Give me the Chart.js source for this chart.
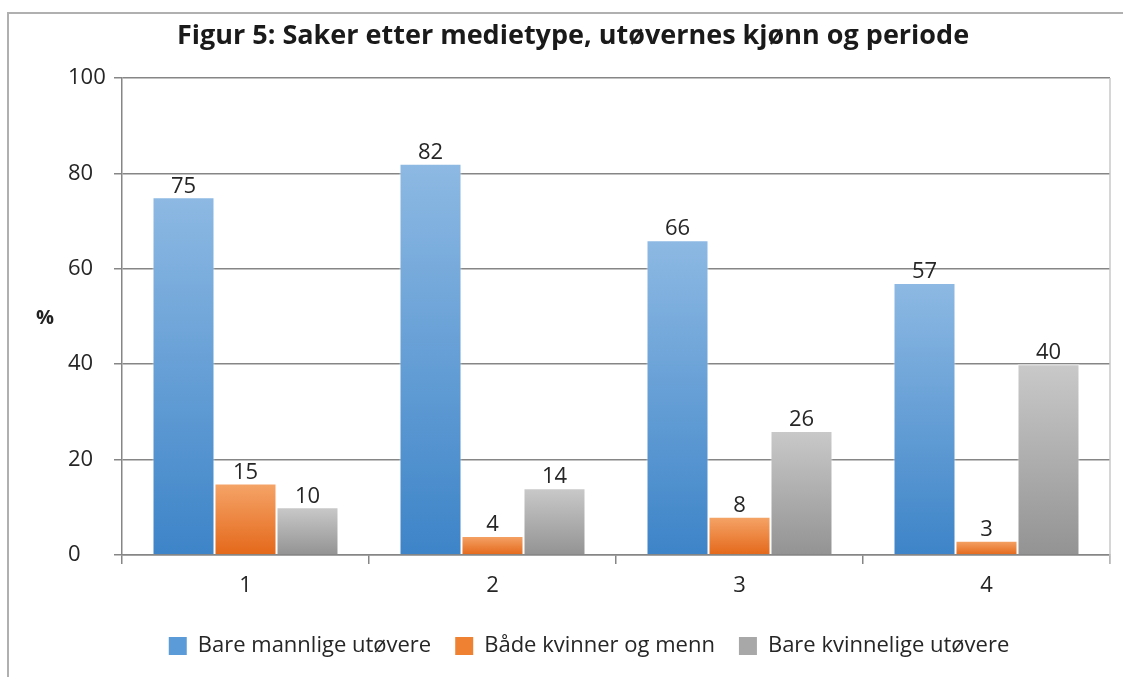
<!DOCTYPE html>
<html>
<head>
<meta charset="utf-8">
<script src="https://cdn.jsdelivr.net/npm/chart.js@4"></script>
<style>
  html, body { margin: 0; padding: 0; background: #fff; }
  #wrap { width: 1123px; height: 677px; position: relative; }
</style>
</head>
<body>
<div id="wrap"><canvas id="grafico" width="1123" height="677"></canvas></div>
<script>
// data
const perioder = ['1', '2', '3', '4'];
const bareMenn = [75, 82, 66, 57];
const baade = [15, 4, 8, 3];
const bareKvinner = [10, 14, 26, 40];
const yTicks = [0, 20, 40, 60, 80, 100];
const tittel = 'Figur 5: Saker etter medietype, utøvernes kjønn og periode';

const fonte = '"Open Sans", "DejaVu Sans", sans-serif';

// gradient per bar, light at the top and dark at the bottom
function gradient(topp, bunn) {
    return function (context) {
        const chart = context.chart;
        const area = chart.chartArea;
        if (!area || context.type !== 'data') return bunn;
        const y = chart.scales.y;
        const y0 = y.getPixelForValue(context.raw);
        const y1 = y.getPixelForValue(0);
        const g = chart.ctx.createLinearGradient(0, y0, 0, y1 + 0.01);
        g.addColorStop(0, topp);
        g.addColorStop(1, bunn);
        return g;
    };
}

const pynt = {
    id: 'pynt',
    beforeDraw(chart) {
        const ctx = chart.ctx;
        ctx.save();
        ctx.fillStyle = '#fff';
        ctx.fillRect(0, 0, chart.width, chart.height);
        // outer chart border
        ctx.strokeStyle = '#b0b0b0';
        ctx.lineWidth = 2;
        ctx.strokeRect(8, 13, chart.width + 20, chart.height + 20);
        // title, centred on the whole frame like the original
        ctx.fillStyle = '#1a1a1a';
        ctx.font = 'bold 27px ' + fonte;
        ctx.textAlign = 'center';
        ctx.textBaseline = 'middle';
        ctx.fillText(tittel, 573, 36);
        ctx.restore();
    },
    afterDatasetsDraw(chart) {
        const ctx = chart.ctx;
        const area = chart.chartArea;
        ctx.save();
        // right border of the plot area
        ctx.strokeStyle = '#c8c8c8';
        ctx.lineWidth = 1.5;
        ctx.beginPath();
        ctx.moveTo(area.right, area.top);
        ctx.lineTo(area.right, area.bottom + 9);
        ctx.stroke();
        // value labels
        ctx.fillStyle = '#262626';
        ctx.font = '22px ' + fonte;
        ctx.textAlign = 'center';
        ctx.textBaseline = 'bottom';
        chart.data.datasets.forEach(function (ds, i) {
            chart.getDatasetMeta(i).data.forEach(function (bar, j) {
                ctx.fillText(ds.data[j], bar.x, bar.y);
            });
        });
        // "%" axis label, horizontal
        ctx.fillStyle = '#222';
        ctx.font = 'bold 20px ' + fonte;
        ctx.textAlign = 'center';
        ctx.textBaseline = 'middle';
        ctx.fillText('%', 45, 318);
        ctx.restore();
    }
};

new Chart(document.getElementById('grafico'), {
    type: 'bar',
    data: {
        labels: perioder,
        datasets: [{
            label: 'Bare mannlige utøvere',
            data: bareMenn,
            backgroundColor: gradient('#8db9e3', '#3d84c8'),
            borderColor: 'rgba(255,255,255,0.6)',
            borderWidth: 1
        }, {
            label: 'Både kvinner og menn',
            data: baade,
            backgroundColor: gradient('#f5a468', '#e4681a'),
            borderColor: 'rgba(255,255,255,0.6)',
            borderWidth: 1
        }, {
            label: 'Bare kvinnelige utøvere',
            data: bareKvinner,
            backgroundColor: gradient('#c9c9c9', '#939393'),
            borderColor: 'rgba(255,255,255,0.6)',
            borderWidth: 1
        }]
    },
    options: {
        responsive: false,
        animation: false,
        devicePixelRatio: 1,
        categoryPercentage: 0.753,
        barPercentage: 1,
        layout: { padding: { left: 68, right: 13, top: 78, bottom: 10 } },
        plugins: {
            title: { display: false },
            legend: {
                position: 'bottom',
                labels: {
                    color: '#262626',
                    font: { family: fonte, size: 22 },
                    boxWidth: 18,
                    boxHeight: 18,
                    padding: 24,
                    generateLabels(chart) {
                        const farger = ['#5b9bd8', '#ef8232', '#a8a8a8'];
                        return chart.data.datasets.map(function (ds, i) {
                            return {
                                text: ds.label,
                                fillStyle: farger[i],
                                strokeStyle: farger[i],
                                lineWidth: 0,
                                fontColor: '#262626',
                                datasetIndex: i
                            };
                        });
                    }
                }
            },
            tooltip: { enabled: false }
        },
        scales: {
            x: {
                afterFit(scale) { scale.height = 56; },
                grid: {
                    display: true,
                    offset: true,
                    drawOnChartArea: false,
                    drawTicks: true,
                    tickLength: 9,
                    color: '#868686',
                    lineWidth: 1.5
                },
                border: { display: true, color: '#868686', width: 1.5 },
                ticks: {
                    color: '#262626',
                    font: { family: fonte, size: 22 },
                    padding: 9
                }
            },
            y: {
                min: 0,
                max: 100,
                afterFit(scale) { scale.width = 54; },
                afterBuildTicks(scale) {
                    scale.ticks = yTicks.map(function (v) { return { value: v }; });
                },
                grid: {
                    color: '#868686',
                    lineWidth: 1.5,
                    drawTicks: true,
                    tickLength: 8
                },
                border: { display: true, color: '#868686', width: 1.5 },
                ticks: {
                    color: '#262626',
                    font: { family: fonte, size: 22 },
                    crossAlign: 'far',
                    padding: 6
                }
            }
        }
    },
    plugins: [pynt]
});
</script>
</body>
</html>
